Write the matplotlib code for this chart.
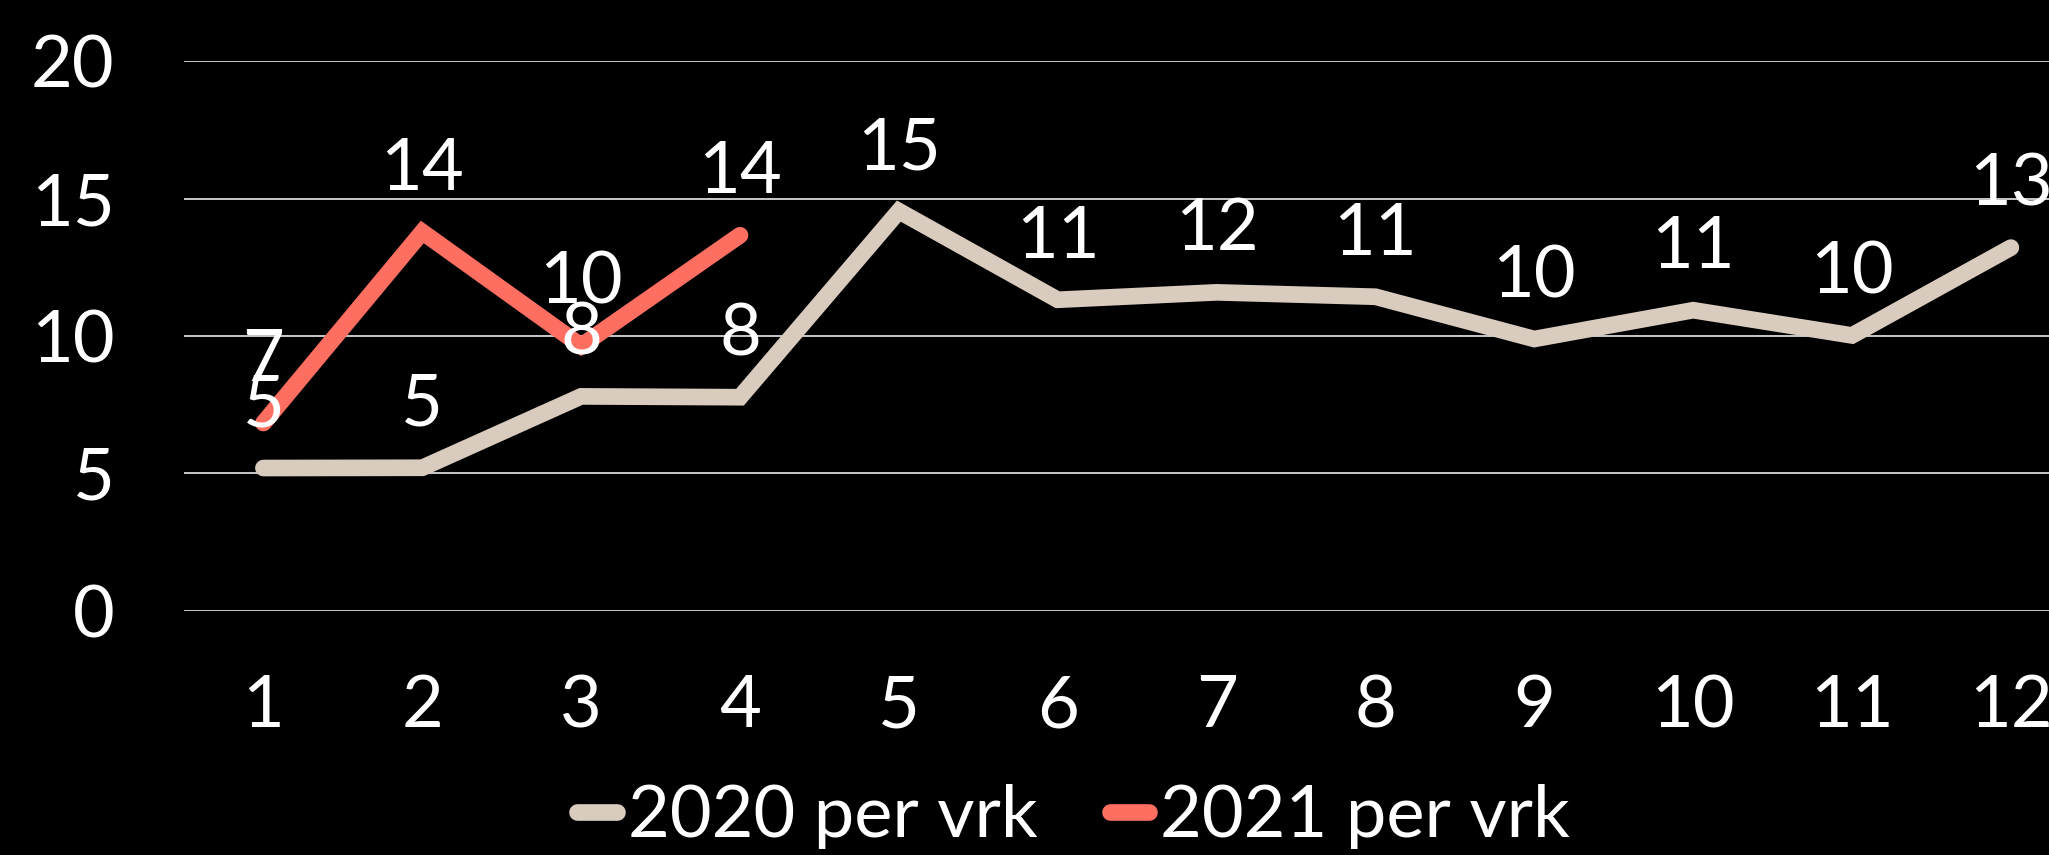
import matplotlib
matplotlib.use("Agg")
import matplotlib.pyplot as plt

months = [1, 2, 3, 4, 5, 6, 7, 8, 9, 10, 11, 12]
values_2020 = [5.19, 5.2, 7.8, 7.77, 14.55, 11.32, 11.59, 11.43, 9.89, 10.94, 10.02, 13.22]
months_2021 = [1, 2, 3, 4]
values_2021 = [6.83, 13.79, 9.64, 13.67]
yticks = [0, 5, 10, 15, 20]
label_2020 = "2020 per vrk"
label_2021 = "2021 per vrk"

c2020 = "#D9CBBE"
c2021 = "#FF6F61"
FONT = ["Lato", "DejaVu Sans"]
FS = 52
W = 'normal'
LW = 12

plt.rcParams['font.family'] = FONT
plt.rcParams['font.weight'] = W

fig = plt.figure(figsize=(20.49, 8.55), dpi=100, facecolor="black")
ax = fig.add_axes([184/2049, (855-610.5)/855, 1 - 184/2049, (610.5-61.5)/855])
ax.set_facecolor("black")

ax.set_xlim(0.5, 12.24)
ax.set_ylim(0, 20)
ax.set_yticks(yticks)
ax.set_xticks(months)
ax.yaxis.grid(True, color="white", linewidth=1.1)
ax.set_axisbelow(True)
for s in ax.spines.values():
    s.set_visible(False)
ax.tick_params(axis='both', length=0, colors='white', labelsize=FS)
ax.tick_params(axis='y', pad=50)
ax.tick_params(axis='x', pad=46)
for lab in ax.get_xticklabels() + ax.get_yticklabels():
    lab.set_fontweight(W)

ax.plot(months, values_2020, color=c2020, lw=LW, solid_capstyle='round',
        solid_joinstyle='miter', label=label_2020, clip_on=False, zorder=3)
ax.plot(months_2021, values_2021, color=c2021, lw=LW, solid_capstyle='round',
        solid_joinstyle='miter', label=label_2021, clip_on=False, zorder=3)

for x, v in zip(months, values_2020):
    ax.annotate(f"{round(v)}", (x, v), xytext=(0, 45), textcoords='offset points',
                ha='center', va='center', color='white', fontsize=FS,
                fontweight=W, zorder=5, annotation_clip=False)
for x, v in zip(months_2021, values_2021):
    ax.annotate(f"{round(v)}", (x, v), xytext=(0, 45), textcoords='offset points',
                ha='center', va='center', color='white', fontsize=FS,
                fontweight=W, zorder=5, annotation_clip=False)

leg = fig.legend(loc='center', bbox_to_anchor=(0.524, 0.045), ncol=2, frameon=False,
                 fontsize=FS, handlelength=0.55, handletextpad=0.15, columnspacing=1.0,
                 borderaxespad=0, borderpad=0)
for t in leg.get_texts():
    t.set_color('white')
    t.set_fontweight(W)

fig.savefig("out.png", dpi=100, facecolor="black")
